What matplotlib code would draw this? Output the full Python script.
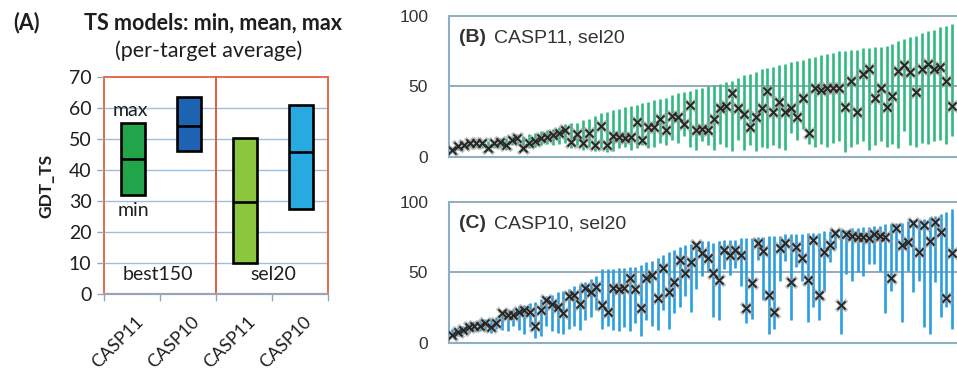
import matplotlib
matplotlib.use("Agg")
import matplotlib.pyplot as plt
from matplotlib.patches import Rectangle
import numpy as np

plt.rcParams["font.family"] = ["Liberation Sans", "DejaVu Sans"]

# ---------------- Panel A: per-target average of min / mean / max GDT_TS
a_sets = ["best150", "best150", "sel20", "sel20"]
a_labels = ["CASP11", "CASP10", "CASP11", "CASP10"]
a_min = [32.0, 46.0, 9.9, 27.4]
a_mean = [43.5, 54.3, 29.6, 45.9]
a_max = [55.0, 63.6, 50.4, 61.0]
a_colors = ["#22a44b", "#1d63b2", "#8cc63f", "#29a9e1"]

# ---------------- Panel B: CASP11, sel20 (per target min / mean / max)
b_mean = [4.7, 7.5, 8.5, 9.5, 10, 9.5, 6, 9.5, 10.5, 8, 12, 13, 6.5, 10, 11, 13, 14,
          15.5, 16.5, 19, 10.5, 16, 9.5, 17, 8, 22, 8, 15, 14, 13, 14, 25, 12, 21, 21, 27, 19,
          29, 28, 23, 36.6, 19, 20, 19, 27, 34.5, 36, 45, 34.5, 30, 21, 28, 34.5, 47, 32,
          39, 32, 34.5, 28, 42, 16.7, 49, 47.5, 48.5, 49, 49, 35.5, 54, 32, 59, 62, 42, 49,
          35.5, 43, 61, 65, 60, 46, 62, 66, 62, 64, 54, 36]
b_min = [3, 5, 6, 7, 7, 6, 4, 6, 7, 5, 8, 9, 4, 6, 7, 8, 9,
         8, 9, 10, 6, 8, 5, 7, 4, 6, 3, 4, 6, 7, 5, 6, 8, 6, 7, 10, 8,
         12, 10, 15, 7, 5, 11, 8, 5, 9, 7, 4, 12, 5, 8, 4, 7, 6, 8, 6, 5,
         17, 12, 20, 9, 7, 9, 7, 10, 11, 3, 7, 9, 11, 5, 8, 11, 7, 9, 6, 18,
         8, 7, 10, 9, 11, 12, 9, 15]
b_max = [7, 9, 10, 11, 12, 12, 11, 12, 13, 13, 15, 16, 15, 16, 17, 18, 19,
         20, 21, 23, 24, 24, 26, 27, 29, 31, 32, 33, 34, 35, 36, 37, 38, 39, 40, 41, 42,
         44, 45, 46, 47, 48, 49, 50, 51, 52, 53, 54, 56, 58, 59, 60, 62, 63, 64, 65, 66,
         67, 68, 69, 70, 71, 72, 73, 74, 75, 75, 76, 76, 77, 77, 78, 78, 79, 80, 82, 84,
         85, 86, 88, 89, 90, 92, 93, 94]

# ---------------- Panel C: CASP10, sel20 (per target min / mean / max)
c_mean = [5.5, 7.8, 9, 11.3, 11.5, 11.8, 13.7, 11.3, 13.7, 20.8, 19.6, 19.6, 22, 23, 22,
          12, 23, 30, 27.7, 25.3, 20.8, 33, 34, 27.7, 38.6, 36, 39.5,
          26.7, 22, 38.8, 38, 38.6, 45.6, 38, 24.4, 45.6, 48, 31.5, 52.7, 36.2, 43.3, 58.7,
          49.2, 57.5, 69.3, 63.4, 59.9, 49.4, 44.5, 65.7, 62.2, 65.7, 62, 24.4, 42, 70.5, 65, 33.8,
          22, 67, 70.5, 43.3, 68, 60, 44.5, 72.8, 33.8, 64.5, 69.3, 77.6, 26.7, 77, 76, 75,
          75, 74, 77, 76, 75, 45.6, 81, 69, 71.6, 84.7, 64.5, 83.5, 72, 85.8, 78.7, 31.6, 63.6]
c_min = [4, 5, 6, 7, 8, 8, 9, 7, 10, 9, 8, 12, 9, 6, 11, 3, 5, 12, 8, 7, 6, 10, 12, 9, 16, 18, 23,
         10, 12, 9, 8, 11, 8, 14, 5, 16, 12, 9, 23, 10, 21, 25, 33, 22, 38, 47, 50, 18, 16, 52,
         48, 53, 40, 14, 17, 59, 30, 6,
         10, 44, 58, 16, 54, 44, 15, 25, 16, 37, 57, 67, 6, 49, 44, 50, 47, 56, 56, 51, 21, 37,
         51, 15, 51, 36, 44, 11, 6, 43, 18, 25, 10]
c_max = [10, 11, 12, 14, 15, 16, 17, 17, 18, 22, 23, 24, 26, 27, 28, 29, 31, 33, 34, 36, 37,
         38, 40, 41, 43, 45, 47,
         52, 52, 52, 53, 53, 54, 54, 55, 57, 58, 60, 62, 64, 66, 68, 69, 70, 71, 72, 72, 71,
         72, 73, 73, 73, 74, 74, 74, 75, 75, 76,
         76, 76, 77, 77, 77, 77, 78, 78, 78, 79, 79, 80, 80, 80, 81, 81, 82, 82, 83, 83, 84,
         84, 85, 85, 86, 87, 87, 88, 89, 90, 91, 93, 95]

W, H = 957, 372
fig = plt.figure(figsize=(W / 100, H / 100), dpi=100)


def box(l, t, r, b):
    return [l / W, 1 - b / H, (r - l) / W, (b - t) / H]


# ======================= Panel A =======================
fa = ["Lato", "DejaVu Sans"]
ink = "#1e1e1e"
axA = fig.add_axes(box(104, 77, 328, 294))
axA.set_xlim(0, 4)
axA.set_ylim(0, 70)
for s in axA.spines.values():
    s.set_visible(False)
for y in range(10, 70, 10):
    axA.axhline(y, color="#9cc0dc", lw=1.0, zorder=0)
for x0 in (0, 2):
    axA.add_patch(Rectangle((x0, 0), 2, 70, fill=False, edgecolor="#e2603c",
                            lw=1.3, zorder=1, clip_on=False))
axA.axhline(0, color="#98a4bc", lw=1.6, zorder=2, clip_on=False)

xa = np.arange(len(a_labels)) + 0.52
bw = 0.43
for xi, lo, mu, hi, col in zip(xa, a_min, a_mean, a_max, a_colors):
    axA.bar(xi, hi - lo, bottom=lo, width=bw, color=col, edgecolor="black",
            lw=1.9, zorder=3)
    axA.hlines(mu, xi - bw / 2, xi + bw / 2, color="black", lw=1.9, zorder=4)

axA.set_yticks(range(0, 80, 10))
axA.set_yticklabels([str(v) for v in range(0, 80, 10)], family=fa, fontsize=14,
                    color=ink)
axA.tick_params(axis="y", length=5, width=1, color="#9aa4b8", pad=4)
axA.set_xticks(xa + 0.04)
axA.set_xticklabels(a_labels, rotation=45, ha="right", va="top",
                    rotation_mode="anchor", family=fa, fontsize=13, color=ink)
axA.tick_params(axis="x", which="major", length=0, pad=14)
axA.set_xticks([0, 1, 2, 3, 4], minor=True)
axA.tick_params(axis="x", which="minor", length=5, width=1, color="#9aa4b8")
axA.set_ylabel("GDT_TS", family=fa, fontsize=12.5, fontweight="bold", labelpad=10,
               color=ink)

axA.text(0.47, 59.3, "max", family=fa, fontsize=14, ha="center", va="center",
         zorder=5, color=ink)
axA.text(0.52, 27.0, "min", family=fa, fontsize=14, ha="center", va="center",
         zorder=5, color=ink)
axA.text(0.97, 6.2, a_sets[0], family=fa, fontsize=14, ha="center", va="center",
         color=ink)
axA.text(3.03, 6.2, a_sets[2], family=fa, fontsize=14, ha="center", va="center",
         color=ink)

fig.text(27 / W, 1 - 23 / H, "(A)", family=fa, fontsize=15.5, fontweight="bold",
         ha="center", va="center", color=ink)
fig.text(213 / W, 1 - 23 / H, "TS models: min, mean, max", family=fa, fontsize=15.5,
         fontweight="bold", ha="center", va="center", color=ink)
fig.text(209 / W, 1 - 51 / H, "(per-target average)", family=fa, fontsize=15.5,
         ha="center", va="center", color=ink)


# ======================= Panels B and C =======================
def range_panel(t, b, mins, means, maxs, col, tag, name):
    ax = fig.add_axes(box(449, t, 961, b))
    n = len(means)
    x = np.arange(n)
    ppu = 500.0 / (n - 1)
    ax.set_xlim(-3.0 / ppu, (n - 1) + 9.0 / ppu)
    ax.set_ylim(0, 100)
    for s in ("top", "right"):
        ax.spines[s].set_visible(False)
    for s in ("left", "bottom"):
        ax.spines[s].set_color("#8db0c6")
        ax.spines[s].set_linewidth(1.5)
    for y in (50, 100):
        ax.axhline(y, color="#8aa6b6", lw=1.3, zorder=1, clip_on=False)
    ax.vlines(x, mins, maxs, color=col, lw=1.9, zorder=2)
    ax.scatter(x, means, marker="x", s=60, color="#a0a0a0", linewidths=2.8,
               alpha=0.7, zorder=3)
    ax.scatter(x, means, marker="x", s=34, color="#262626", linewidths=1.4, zorder=4)
    ax.set_xticks([])
    ax.set_yticks([0, 50, 100])
    ax.set_yticklabels(["0", "50", "100"], fontsize=12.5, color="#333333")
    ax.tick_params(axis="y", length=0, pad=15)
    ax.annotate(tag, xy=(0, 1), xycoords="axes fraction", xytext=(10, -22),
                textcoords="offset pixels", fontsize=14, fontweight="bold",
                ha="left", va="center", color="#333333")
    ax.annotate(name, xy=(0, 1), xycoords="axes fraction", xytext=(45, -22),
                textcoords="offset pixels", fontsize=14,
                ha="left", va="center", color="#333333")
    return ax


range_panel(16, 156.7, b_min, b_mean, b_max, "#2fba7f", "(B)", "CASP11, sel20")
range_panel(201.7, 342.7, c_min, c_mean, c_max, "#2a9ee0", "(C)", "CASP10, sel20")

fig.savefig("out.png", dpi=100)
